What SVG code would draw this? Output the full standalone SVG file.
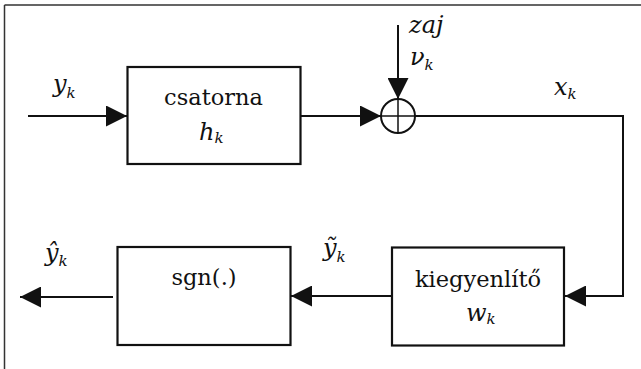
<svg xmlns="http://www.w3.org/2000/svg" width="641" height="369" viewBox="0 0 641 369">
<style>
.box{fill:#fff;stroke:#111;stroke-width:2.2}
.arr{fill:none;stroke:#111;stroke-width:2;marker-end:url(#ah)}
text{font-family:'DejaVu Serif',serif;fill:#111}
.lbl{font-size:22.5px}
.it{font-style:italic;font-size:24px}
.sub{font-size:15px}
</style>
<defs>
<marker id="ah" viewBox="0 0 21 21" refX="21" refY="10.5" markerWidth="21" markerHeight="21" markerUnits="userSpaceOnUse" orient="auto">
<path d="M0,0 L21,10.5 L0,21 Z" fill="#111"/>
</marker>
</defs>
<rect width="641" height="369" fill="#fff"/>
<g id="frame">
<path d="M4.5,5 H641 M4.5,5 V369" fill="none" stroke="#333" stroke-width="1.5"/>
</g>
<g id="connectors">
<line class="arr" x1="28" y1="116" x2="127" y2="116"/>
<line class="arr" x1="301" y1="116" x2="381" y2="116"/>
<line class="arr" x1="398" y1="25" x2="398" y2="99"/>
<polyline class="arr" points="415,116 623,116 623,296 565,296"/>
<line class="arr" x1="392" y1="296" x2="291" y2="296"/>
<line class="arr" x1="113" y1="297" x2="20" y2="297"/>
</g>
<g id="csatorna">
<rect class="box" x="127.5" y="67" width="173" height="97"/>
<text class="lbl" x="213.5" y="105" text-anchor="middle">csatorna</text>
<text class="it" x="199" y="140">h<tspan class="sub" dy="3">k</tspan></text>
</g>
<g id="sum">
<circle cx="398" cy="116" r="17" fill="none" stroke="#111" stroke-width="2"/>
<path d="M381,116 H415 M398,99 V133" fill="none" stroke="#111" stroke-width="1.5"/>
</g>
<g id="kiegyenlito">
<rect class="box" x="392" y="247.5" width="172" height="98"/>
<text class="lbl" x="478" y="287" text-anchor="middle">kiegyenlítő</text>
<text class="it" x="466" y="321">w<tspan class="sub" dy="3">k</tspan></text>
</g>
<g id="sgn">
<rect class="box" x="117.5" y="247" width="173" height="98"/>
<text class="lbl" x="204" y="285" text-anchor="middle">sgn(.)</text>
</g>
<g id="labels">
<text class="it" x="53" y="92">y<tspan class="sub" dy="6">k</tspan></text>
<text class="it" x="409" y="33">zaj</text>
<text class="it" x="410" y="65">ν<tspan class="sub" dy="5">k</tspan></text>
<text class="it" x="554" y="95">x<tspan class="sub" dy="4">k</tspan></text>
<text class="it" x="323" y="256">ỹ<tspan class="sub" dy="6">k</tspan></text>
<text class="it" x="45" y="261">ŷ<tspan class="sub" dy="5">k</tspan></text>
</g>
</svg>
